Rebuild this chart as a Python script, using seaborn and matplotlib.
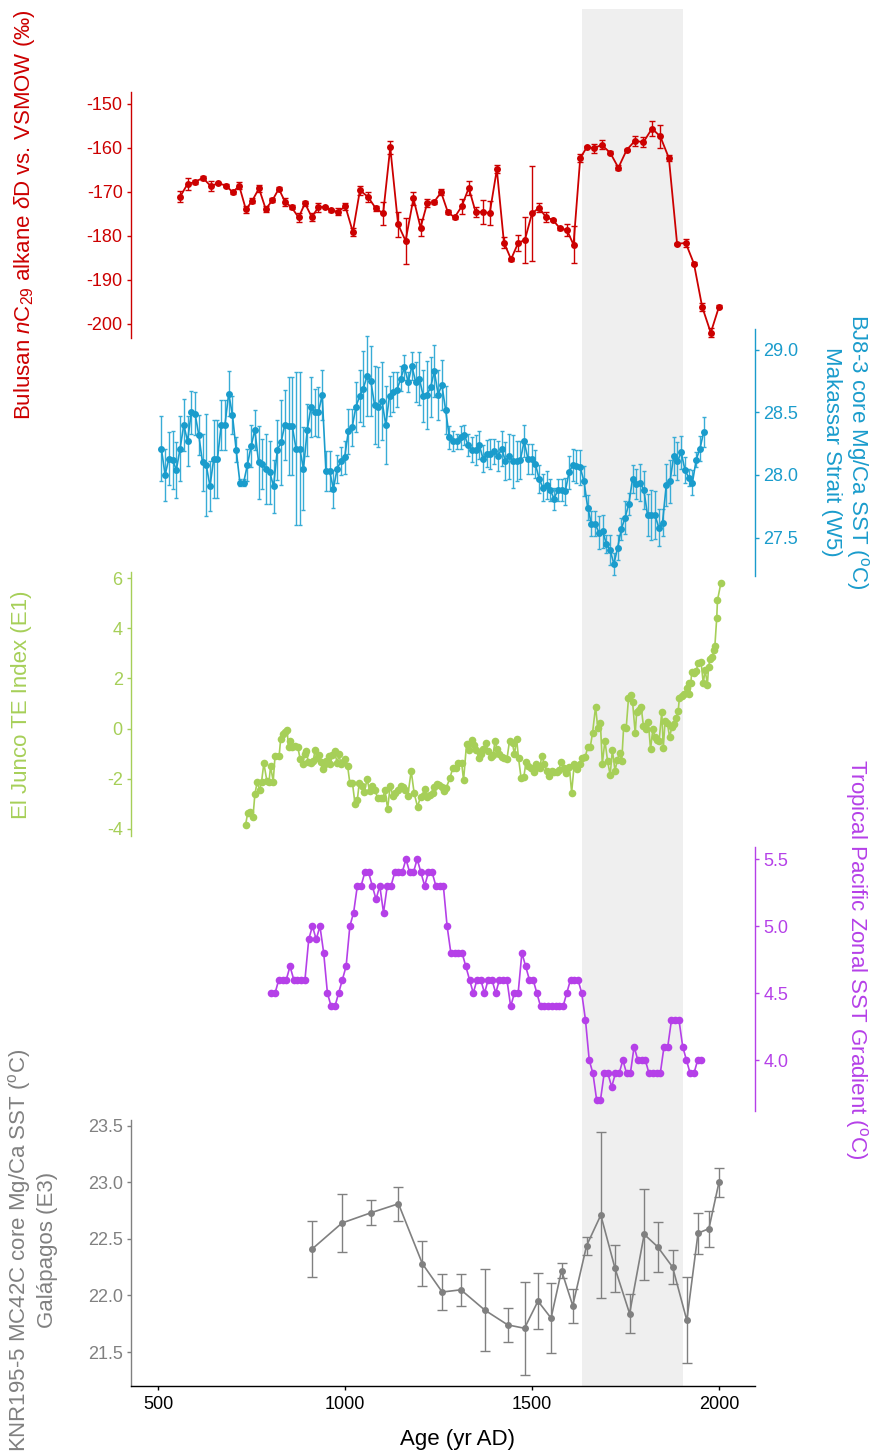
import numpy as np
import pandas as pd
import matplotlib
matplotlib.use("Agg")
import matplotlib.pyplot as plt
import seaborn as sns

# ---------------- Bulusan nC29 alkane dD ----------------
red_age = [559, 579, 600, 620, 641, 661, 682, 700, 717, 735, 752, 770, 788, 806, 823,
           840, 857, 876, 893, 911, 929, 946, 963, 981, 1001, 1021, 1040, 1062, 1082,
           1102, 1121, 1142, 1162, 1183, 1202, 1220, 1238, 1257, 1275, 1293, 1312, 1331,
           1349, 1368, 1387, 1406, 1425, 1444, 1463, 1481, 1500, 1519, 1537, 1556, 1575,
           1593, 1611, 1629, 1647, 1666, 1686, 1709, 1731, 1753, 1775, 1798, 1821, 1843,
           1866, 1888, 1911, 1933, 1955, 1978, 2000]
red_dd = [-171.1, -168.2, -167.7, -166.8, -168.7, -168.0, -168.6, -170.1, -168.6, -174.0,
          -172.0, -169.2, -173.9, -171.9, -169.3, -172.3, -173.5, -175.8, -172.6, -175.7,
          -173.5, -173.4, -174.2, -174.5, -173.3, -179.1, -169.6, -171.2, -173.7, -174.9,
          -159.9, -177.4, -181.1, -171.5, -178.1, -172.5, -172.3, -170.1, -174.6, -175.8,
          -173.3, -169.1, -174.5, -174.6, -174.8, -164.9, -181.5, -185.3, -181.6, -180.9,
          -174.9, -173.6, -175.7, -176.4, -178.3, -178.6, -182.0, -162.3, -159.8, -160.1,
          -159.3, -161.1, -164.5, -160.5, -158.4, -158.7, -155.6, -157.4, -162.3, -181.8,
          -181.6, -186.3, -196.1, -202.0, -196.1]
red_err = [1.2, 1.4, 0.5, 0.5, 1.2, 0.3, 0.3, 0.3, 0.8, 0.8, 0.6, 0.8, 0.6, 0.5, 0.3,
           0.8, 0.5, 1.0, 0.6, 1.0, 1.0, 0.3, 0.3, 0.8, 0.8, 1.0, 1.0, 1.2, 0.6, 2.7,
           1.5, 2.8, 5.2, 1.5, 1.9, 0.9, 0.4, 0.7, 0.4, 0.4, 1.7, 1.6, 1.1, 2.8, 2.65,
           0.9, 1.2, 0.3, 1.8, 5.2, 10.7, 1.0, 1.05, 0.3, 0.4, 1.4, 4.2, 1.0, 0.3, 1.05,
           1.0, 0.3, 0.5, 0.3, 1.2, 1.1, 1.7, 2.6, 0.6, 0.3, 1.0, 0.3, 0.95, 1.05, 0.3]

# ---------------- BJ8-3 Mg/Ca SST (decadal samples) ----------------
blue_age = np.arange(509, 1960, 10)
blue_sst = [28.21, 28.00, 28.13, 28.12, 28.04, 28.21, 28.40, 28.27, 28.50, 28.49,
            28.32, 28.10, 28.08, 27.91, 28.13, 28.13, 28.40, 28.40, 28.65, 28.48,
            28.20, 27.94, 27.94, 28.08, 28.23, 28.36, 28.10, 28.09, 28.05, 28.02,
            27.91, 28.20, 28.26, 28.40, 28.39, 28.39, 28.21, 28.21, 28.05, 28.36,
            28.54, 28.50, 28.50, 28.64, 28.03, 28.03, 27.89, 28.05, 28.11, 28.14,
            28.35, 28.38, 28.54, 28.63, 28.69, 28.79, 28.75, 28.56, 28.54, 28.59,
            28.40, 28.63, 28.66, 28.68, 28.77, 28.86, 28.74, 28.87, 28.74, 28.77,
            28.63, 28.64, 28.70, 28.83, 28.64, 28.72, 28.52, 28.30, 28.27, 28.27,
            28.30, 28.32, 28.24, 28.20, 28.20, 28.24, 28.13, 28.17, 28.17, 28.19,
            28.15, 28.21, 28.11, 28.15, 28.11, 28.11, 28.12, 28.27, 28.13, 28.13,
            28.09, 27.97, 27.90, 27.92, 27.88, 27.81, 27.88, 27.88, 27.87, 28.02,
            28.08, 28.07, 28.06, 27.95, 27.74, 27.61, 27.61, 27.54, 27.55, 27.45,
            27.40, 27.29, 27.42, 27.57, 27.66, 27.77, 27.97, 27.93, 27.94, 27.88,
            27.68, 27.68, 27.68, 27.58, 27.62, 27.92, 27.95, 28.15, 28.11, 28.18,
            28.04, 27.98, 27.94, 28.12, 28.21, 28.34]
blue_err = [0.26, 0.21, 0.21, 0.23, 0.22, 0.26, 0.21, 0.20, 0.17, 0.17,
            0.16, 0.23, 0.41, 0.20, 0.31, 0.31, 0.20, 0.20, 0.18, 0.15,
            0.10, 0.03, 0.03, 0.13, 0.17, 0.16, 0.29, 0.20, 0.28, 0.25,
            0.21, 0.24, 0.34, 0.28, 0.39, 0.39, 0.61, 0.61, 0.33, 0.21,
            0.24, 0.19, 0.20, 0.20, 0.16, 0.16, 0.15, 0.11, 0.11, 0.13,
            0.18, 0.15, 0.20, 0.21, 0.30, 0.32, 0.28, 0.31, 0.32, 0.31,
            0.31, 0.16, 0.16, 0.14, 0.10, 0.10, 0.08, 0.11, 0.16, 0.21,
            0.21, 0.27, 0.24, 0.21, 0.20, 0.20, 0.19, 0.09, 0.08, 0.06,
            0.09, 0.08, 0.09, 0.10, 0.12, 0.11, 0.11, 0.11, 0.12, 0.10,
            0.12, 0.14, 0.15, 0.18, 0.21, 0.16, 0.15, 0.13, 0.12, 0.12,
            0.11, 0.11, 0.11, 0.11, 0.09, 0.09, 0.09, 0.09, 0.11, 0.13,
            0.13, 0.13, 0.14, 0.12, 0.10, 0.10, 0.10, 0.13, 0.13, 0.07,
            0.12, 0.09, 0.10, 0.09, 0.13, 0.09, 0.11, 0.12, 0.15, 0.15,
            0.17, 0.20, 0.19, 0.15, 0.11, 0.17, 0.17, 0.15, 0.15, 0.13,
            0.10, 0.07, 0.10, 0.06, 0.10, 0.12]

# ---------------- El Junco TE index ----------------
green_age = [734, 740, 747, 754, 759, 765, 772, 777, 783, 791, 797, 801, 808, 813, 824,
             828, 833, 839, 845, 849, 853, 859, 866, 874, 880, 887, 892, 896, 902, 908,
             915, 920, 925, 931, 936, 940, 945, 950, 956, 961, 966, 972, 979, 984, 989,
             995, 1000, 1007, 1013, 1020, 1027, 1033, 1038, 1046, 1052, 1059, 1066, 1073,
             1080, 1087, 1095, 1101, 1107, 1114, 1121, 1128, 1135, 1142, 1149, 1155, 1161,
             1168, 1177, 1185, 1194, 1202, 1210, 1214, 1220, 1226, 1234, 1239, 1245, 1251,
             1259, 1265, 1271, 1281, 1288, 1296, 1303, 1312, 1317, 1325, 1332, 1339, 1345,
             1351, 1358, 1364, 1370, 1376, 1383, 1390, 1396, 1401, 1407, 1413, 1419, 1426,
             1433, 1440, 1448, 1453, 1459, 1464, 1471, 1478, 1484, 1490, 1497, 1505, 1510,
             1515, 1521, 1526, 1533, 1539, 1546, 1553, 1560, 1567, 1572, 1578, 1585, 1592,
             1600, 1606, 1613, 1620, 1628, 1635, 1642, 1649, 1656, 1662, 1670, 1676, 1683,
             1688, 1695, 1702, 1709, 1715, 1722, 1728, 1734, 1740, 1745, 1752, 1758, 1764,
             1769, 1776, 1780, 1786, 1792, 1798, 1804, 1811, 1817, 1823, 1829, 1835, 1840,
             1847, 1851, 1856, 1862, 1868, 1874, 1880, 1885, 1891, 1894, 1900, 1907, 1914,
             1920, 1921, 1925, 1927, 1933, 1939, 1945, 1952, 1958, 1963, 1969, 1972, 1976,
             1981, 1987, 1989, 1994, 1996, 2005]
green_te = [-3.84, -3.36, -3.31, -3.52, -2.62, -2.14, -2.45, -2.11, -1.38, -2.07,
            -2.11, -1.49, -2.11, -1.08, -1.08, -0.41, -0.23, -0.12, -0.06, -0.72,
            -0.49, -0.72, -0.68, -0.75, -1.21, -1.42, -1.03, -0.88, -1.32, -1.38,
            -1.29, -0.85, -1.18, -1.05, -1.34, -1.62, -1.45, -1.29, -1.08, -1.42,
            -1.05, -0.89, -1.38, -1.03, -1.42, -1.32, -1.21, -1.49, -2.18, -2.18,
            -3.02, -2.84, -2.18, -2.27, -2.51, -2.01, -2.49, -2.27, -2.45, -2.75,
            -2.78, -2.78, -2.45, -3.20, -2.27, -2.69, -2.55, -2.45, -2.27, -2.34,
            -2.45, -2.67, -1.69, -2.58, -3.12, -2.71, -2.65, -2.41, -2.71, -2.65,
            -2.58, -2.31, -2.19, -2.25, -2.34, -2.49, -2.35, -1.95, -1.58, -1.58,
            -1.38, -1.38, -2.06, -0.61, -0.85, -0.45, -0.65,
            -0.85, -1.18, -1.03, -0.83, -0.59, -0.89, -1.12, -1.05, -0.49, -0.83,
            -1.01, -1.12, -1.18, -1.22, -0.48, -0.59, -1.03, -0.43, -1.18, -1.98,
            -1.94, -1.34, -1.49, -1.56, -1.72, -1.41, -1.52, -1.58, -1.09, -1.41,
            -1.68, -1.89, -1.68, -1.72, -1.72, -1.65, -1.32, -1.58, -1.78, -1.54,
            -2.55, -1.41, -1.61, -1.41, -1.18, -1.14, -0.75, -0.72, -0.16, 0.87,
            0.01, 0.21, -1.41, -0.48, -1.28, -1.85, -0.85, -1.69, -1.25, -0.99,
            -1.29, 0.05, 0.04, 1.21, 1.34, 1.05, -0.19, 0.67, 0.74, 0.85,
            0.10, -0.03, 0.28, -0.83, -0.03, -0.32, -0.45, -0.48, 0.67, -0.79,
            0.32, 0.21, -0.35, 0.08, 0.17, 0.41, 0.71,
            1.21, 1.30, 1.38, 1.60, 1.80, 1.37, 1.83, 2.27, 2.23, 2.31, 2.63, 2.67,
            1.80, 2.34, 1.74, 2.44, 2.76, 2.84, 3.13, 3.29, 4.42, 5.12, 5.79]

# ---------------- Tropical Pacific zonal SST gradient (decadal) ----------------
purple_age = np.arange(803, 1954, 10)
purple_grad = [4.5, 4.5, 4.6, 4.6, 4.6, 4.7, 4.6, 4.6, 4.6, 4.6,
               4.9, 5.0, 4.9, 5.0, 4.8, 4.5, 4.4, 4.4, 4.5, 4.6,
               4.7, 5.0, 5.1, 5.3, 5.3, 5.4, 5.4, 5.3, 5.2, 5.3,
               5.1, 5.3, 5.3, 5.4, 5.4, 5.4, 5.5, 5.4, 5.4, 5.5,
               5.4, 5.3, 5.4, 5.4, 5.3, 5.3, 5.3, 5.0, 4.8, 4.8,
               4.8, 4.8, 4.7, 4.6, 4.5, 4.6, 4.6, 4.5, 4.6, 4.6,
               4.5, 4.6, 4.6, 4.6, 4.4, 4.5, 4.5, 4.8, 4.7, 4.6,
               4.6, 4.5, 4.4, 4.4, 4.4, 4.4, 4.4, 4.4, 4.4, 4.5,
               4.6, 4.6, 4.6, 4.5, 4.3, 4.0, 3.9, 3.7, 3.7, 3.9,
               3.9, 3.8, 3.9, 3.9, 4.0, 3.9, 3.9, 4.1, 4.0, 4.0,
               4.0, 3.9, 3.9, 3.9, 3.9, 4.1, 4.1, 4.3, 4.3, 4.3,
               4.1, 4.0, 3.9, 3.9, 4.0, 4.0]

# ---------------- KNR195-5 MC42C Mg/Ca SST ----------------
grey_age = [912, 992, 1069, 1143, 1207, 1260, 1310, 1374, 1435, 1480, 1516, 1551, 1579,
            1609, 1646, 1684, 1722, 1761, 1800, 1836, 1876, 1914, 1944, 1973, 2000]
grey_sst = [22.41, 22.64, 22.73, 22.81, 22.28, 22.03, 22.05, 21.87, 21.74, 21.71, 21.95,
            21.80, 22.22, 21.91, 22.44, 22.71, 22.24, 21.84, 22.54, 22.43, 22.25, 21.78,
            22.55, 22.59, 23.00]
grey_err = [0.25, 0.26, 0.11, 0.15, 0.20, 0.16, 0.14, 0.36, 0.15, 0.41, 0.25, 0.31, 0.07,
            0.15, 0.08, 0.73, 0.21, 0.17, 0.40, 0.22, 0.15, 0.38, 0.18, 0.16, 0.13]

# shaded interval (yr AD)
band = (1635, 1905)

RED, BLUE, GREEN, PURPLE, GREY = "#cc0000", "#1a9ccc", "#a6cf58", "#b540e8", "#808080"

sns.set_style("white")
plt.rcParams["font.family"] = ["Liberation Sans", "DejaVu Sans"]
plt.rcParams["axes.unicode_minus"] = False
plt.rcParams["mathtext.fontset"] = "custom"
plt.rcParams["mathtext.rm"] = "Liberation Sans"
plt.rcParams["mathtext.it"] = "Liberation Sans:italic"

W, H = 872, 1451
fig = plt.figure(figsize=(W / 100, H / 100), dpi=100)
XL, XR = 131, 755
XLIM = (427.8, 2096.3)
TICK_FS = 13
LABEL_FS = 16


def add_panel(top, bottom, z=1):
    ax = fig.add_axes([XL / W, 1 - bottom / H, (XR - XL) / W, (bottom - top) / H])
    ax.patch.set_visible(False)
    for s in ax.spines.values():
        s.set_visible(False)
    ax.set_zorder(z)
    return ax


def style_y(ax, side, color, ticks, ylim, fmt="{:g}"):
    sp = ax.spines[side]
    sp.set_visible(True)
    sp.set_color(color)
    sp.set_linewidth(1.0)
    if side == "right":
        ax.yaxis.tick_right()
    else:
        ax.yaxis.tick_left()
    ax.set_ylim(*ylim)
    ax.set_yticks(ticks)
    ax.set_yticklabels([fmt.format(t) for t in ticks])
    ax.tick_params(axis="y", colors=color, direction="out", length=3, width=1,
                   labelsize=TICK_FS, pad=3)
    ax.set_xlim(*XLIM)
    ax.set_xlabel("")
    ax.set_ylabel("")


def draw(ax, x, y, color, err=None, ms=4.5, lw=1.2, cap=2.0, ecol=None):
    if err is not None:
        ax.errorbar(x, y, yerr=err, fmt="none", ecolor=ecol or color, elinewidth=1.0,
                    capsize=cap, capthick=1.0, zorder=2)
    df = pd.DataFrame({"age": x, "val": y})
    sns.lineplot(data=df, x="age", y="val", ax=ax, color=color, lw=lw, marker="o",
                 markersize=ms, markeredgewidth=0, estimator=None, sort=False, zorder=3)


# background shading
axb = add_panel(9, 1386, z=0)
axb.axvspan(*band, color="#efefef", lw=0)
axb.set_xlim(*XLIM)
axb.set_ylim(0, 1)
axb.set_axis_off()

ax1 = add_panel(92, 338, z=5)
draw(ax1, red_age, red_dd, RED, err=red_err, ms=5, lw=1.3, cap=2.3)
style_y(ax1, "left", RED, [-150, -160, -170, -180, -190, -200], (-203.2, -147.3))
ax1.set_xticks([])

ax2 = add_panel(329, 576, z=4)
draw(ax2, blue_age, blue_sst, BLUE, err=blue_err, ms=5, lw=1.2, cap=1.5, ecol="#38acd6")
style_y(ax2, "right", BLUE, [27.5, 28.0, 28.5, 29.0], (27.194, 29.165), "{:.1f}")
ax2.set_xticks([])

ax3 = add_panel(572, 836, z=3)
draw(ax3, green_age, green_te, GREEN, ms=5.5, lw=1.2)
style_y(ax3, "left", GREEN, [-4, -2, 0, 2, 4, 6], (-4.28, 6.24))
ax3.set_xticks([])

ax4 = add_panel(847, 1111, z=2)
draw(ax4, purple_age, purple_grad, PURPLE, ms=5.5, lw=1.2)
style_y(ax4, "right", PURPLE, [4.0, 4.5, 5.0, 5.5], (3.62, 5.59), "{:.1f}")
ax4.set_xticks([])

ax5 = add_panel(1120, 1386, z=1)
draw(ax5, grey_age, grey_sst, GREY, err=grey_err, ms=5, lw=1.2, cap=3.5)
style_y(ax5, "left", GREY, [21.5, 22.0, 22.5, 23.0, 23.5], (21.2, 23.55), "{:.1f}")
ax5.spines["bottom"].set_visible(True)
ax5.spines["bottom"].set_color("black")
ax5.spines["bottom"].set_linewidth(1.0)
ax5.xaxis.tick_bottom()
ax5.set_xticks([500, 1000, 1500, 2000])
ax5.set_xticklabels(["500", "1000", "1500", "2000"])
ax5.tick_params(axis="x", colors="black", direction="out", length=3, width=1,
                labelsize=TICK_FS, pad=4)

# axis titles
deg = r"($^{\mathrm{o}}$C)"
fig.text(25 / W, 1 - 215 / H, r"Bulusan $n$C$_{\mathrm{29}}$ alkane $\delta$D vs. VSMOW (‰)",
         rotation=90, ha="center", va="center", color=RED, fontsize=LABEL_FS)
fig.text(846 / W, 1 - 452 / H, "BJ8-3 core Mg/Ca SST " + deg + "\nMakassar Strait (W5)",
         rotation=270, ha="center", va="center", color=BLUE, fontsize=LABEL_FS,
         multialignment="center", linespacing=1.1)
fig.text(22 / W, 1 - 705 / H, "El Junco TE Index (E1)",
         rotation=90, ha="center", va="center", color=GREEN, fontsize=LABEL_FS)
fig.text(856 / W, 1 - 959 / H, "Tropical Pacific Zonal SST Gradient " + deg,
         rotation=270, ha="center", va="center", color=PURPLE, fontsize=LABEL_FS)
fig.text(32 / W, 1 - 1250 / H, "KNR195-5 MC42C core Mg/Ca SST " + deg + "\nGalápagos (E3)",
         rotation=90, ha="center", va="center", color=GREY, fontsize=LABEL_FS,
         multialignment="center", linespacing=1.25)
fig.text(457 / W, 1 - 1439 / H, "Age (yr AD)", ha="center", va="center",
         color="black", fontsize=LABEL_FS)

fig.savefig("out.png", dpi=100)
